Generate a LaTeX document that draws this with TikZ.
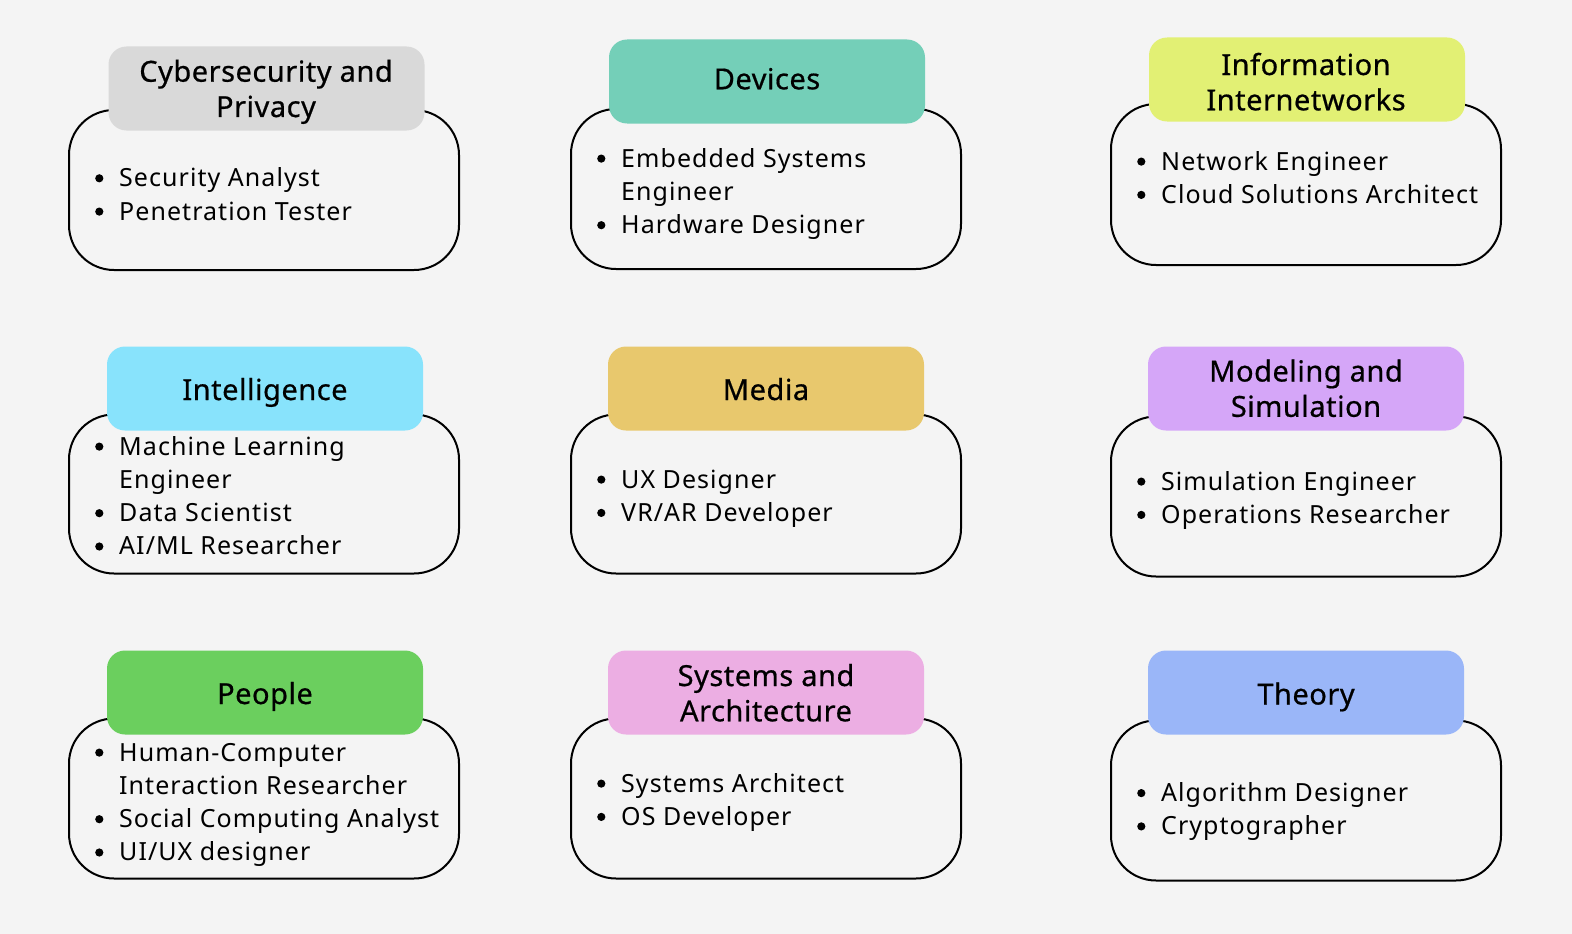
\documentclass[tikz,border=0pt]{standalone}
\usepackage{fontspec}
\setmainfont{Noto Sans}
\newfontfamily\itemfam[LetterSpace=4.2]{Noto Sans}
\newfontfamily\headfam[LetterSpace=1.8,FakeBold=0.6]{Noto Sans}
\definecolor{bg}{HTML}{F4F4F4}
\definecolor{cgrey}{HTML}{D9D9D9}
\definecolor{cteal}{HTML}{74CFB8}
\definecolor{cyellow}{HTML}{E2F074}
\definecolor{ccyan}{HTML}{88E3FC}
\definecolor{cgold}{HTML}{E8C86D}
\definecolor{cpurple}{HTML}{D5A6F8}
\definecolor{cgreen}{HTML}{6BCF5E}
\definecolor{cpink}{HTML}{ECAEE3}
\definecolor{cblue}{HTML}{9AB6F8}
\newcommand{\headfont}{\headfam\fontsize{29}{35.3}\selectfont}
\newcommand{\itemfont}{\itemfam\fontsize{25}{33.3}\selectfont}
\newcommand{\bl}{\makebox[24pt][l]{\tikz[baseline=0pt]\fill (4.1pt,8.4pt) circle (4.1pt);}}
\tikzset{
  panel/.style={draw=black, line width=2pt, rounded corners=45pt, fill=bg,
    minimum width=390pt, inner sep=0pt, outer sep=0pt},
  head/.style={rounded corners=18pt, inner sep=0pt, outer sep=0pt,
    minimum width=316pt, minimum height=84pt},
  title/.style={anchor=base, inner sep=0pt, font=\headfont},
  items/.style={anchor=base west, inner sep=0pt, font=\itemfont}
}
\newenvironment{blist}{\begin{tabular}[t]{@{}l@{}l@{}}}{\end{tabular}}
\newenvironment{tlines}{\begin{tabular}[t]{@{}c@{}}}{\end{tabular}}
\begin{document}
\begin{tikzpicture}[x=1pt,y=-1pt]
\fill[bg] (0,0) rectangle (1572,934);
\useasboundingbox (0,0) rectangle (1572,934);
% row 1
\node[panel, minimum height=160pt] (b1) at (264,190) {};
\node[head, fill=cgrey] (h1) at (266.5,88.5) {};
\node[title] (t1) at (266,81.7) {\begin{tlines}Cybersecurity and\\Privacy\end{tlines}};
\node[items] (i1) at (95,186.7) {\begin{blist}\bl & Security Analyst\\ \bl & Penetration Tester\end{blist}};

\node[panel, minimum height=160pt] (b2) at (766,189) {};
\node[head, fill=cteal] (h2) at (767,81.5) {};
\node[title] (t2) at (767,89.3) {Devices};
\node[items] (i2) at (597,167) {\begin{blist}\bl & Embedded Systems\\ & Engineer\\ \bl & Hardware Designer\end{blist}};

\node[panel, minimum height=161pt] (b3) at (1306,184.5) {};
\node[head, fill=cyellow] (h3) at (1307,79.5) {};
\node[title] (t3) at (1306,75) {\begin{tlines}Information\\Internetworks\end{tlines}};
\node[items] (i3) at (1137,170) {\begin{blist}\bl & Network Engineer\\ \bl & Cloud Solutions Architect\end{blist}};
% row 2
\node[panel, minimum height=159pt] (b4) at (264,494) {};
\node[head, fill=ccyan] (h4) at (265,388.5) {};
\node[title] (t4) at (265,400) {Intelligence};
\node[items] (i4) at (95,455) {\begin{blist}\bl & Machine Learning\\ & Engineer\\ \bl & Data Scientist\\ \bl & AI/ML Researcher\end{blist}};

\node[panel, minimum height=159pt] (b5) at (766,494) {};
\node[head, fill=cgold] (h5) at (766,388.5) {};
\node[title] (t5) at (766,400) {Media};
\node[items] (i5) at (597,488) {\begin{blist}\bl & UX Designer\\ \bl & VR/AR Developer\end{blist}};

\node[panel, minimum height=160pt] (b6) at (1306,496.5) {};
\node[head, fill=cpurple] (h6) at (1306,388.5) {};
\node[title] (t6) at (1306,381.5) {\begin{tlines}Modeling and\\Simulation\end{tlines}};
\node[items] (i6) at (1137,490) {\begin{blist}\bl & Simulation Engineer\\ \bl & Operations Researcher\end{blist}};
% row 3
\node[panel, minimum height=160pt] (b7) at (264,798.5) {};
\node[head, fill=cgreen] (h7) at (265,692.5) {};
\node[title] (t7) at (265,704) {People};
\node[items] (i7) at (95,761) {\begin{blist}\bl & Human-Computer\\ & Interaction Researcher\\ \bl & Social Computing Analyst\\ \bl & UI/UX designer\end{blist}};

\node[panel, minimum height=160pt] (b8) at (766,798.5) {};
\node[head, fill=cpink] (h8) at (766,692.5) {};
\node[title] (t8) at (766,686) {\begin{tlines}Systems and\\Architecture\end{tlines}};
\node[items] (i8) at (597,792) {\begin{blist}\bl & Systems Architect\\ \bl & OS Developer\end{blist}};

\node[panel, minimum height=160pt] (b9) at (1306,800.5) {};
\node[head, fill=cblue] (h9) at (1306,692.5) {};
\node[title] (t9) at (1306,704.5) {Theory};
\node[items] (i9) at (1137,801.5) {\begin{blist}\bl & Algorithm Designer\\ \bl & Cryptographer\end{blist}};
\end{tikzpicture}
\end{document}
